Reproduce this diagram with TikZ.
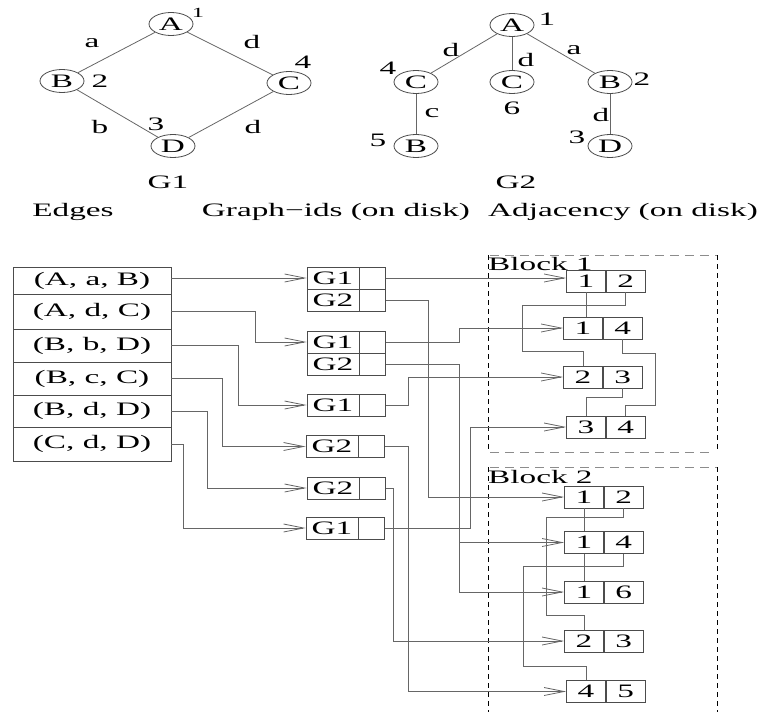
\documentclass[tikz,border=0pt]{standalone}
\usepackage{fontspec}
\setmainfont{Liberation Serif}[FakeStretch=1.75]
\usetikzlibrary{arrows.meta,shapes.geometric}
\begin{document}
\begin{tikzpicture}[x=1pt,y=-1pt,
  every node/.style={font=\fontsize{19}{22}\selectfont, inner sep=0pt},
  ln/.style={draw=black!60, line width=0.8pt},
  vtx/.style={ellipse, draw=black!70, line width=0.8pt, minimum width=44pt, minimum height=23pt},
  small/.style={font=\fontsize{14}{16}\selectfont},
  erow/.style={draw=black!70, line width=0.8pt, minimum width=158pt},
  gidL/.style={draw=black!70, line width=0.8pt, minimum width=52pt, minimum height=22pt},
  gidR/.style={draw=black!70, line width=0.8pt, minimum width=26pt, minimum height=22pt, anchor=west},
  adjL/.style={draw=black!70, line width=0.8pt, minimum width=39pt, minimum height=22pt},
  adjR/.style={adjL, anchor=west},
  arr/.style={ln, -{Straight Barb[length=20pt,width=8pt]}},
  gdash/.style={draw=black!45, line width=1pt, dash pattern=on 9pt off 6pt},
  kdash/.style={draw=black, line width=0.7pt, dash pattern=on 5pt off 4pt}]
\useasboundingbox (0,0) rectangle (768,712);

% ---------- G1 ----------
\node[vtx] (g1A) at (171,24) {A};
\node[vtx] (g1B) at (62,81) {B};
\node[vtx] (g1C) at (289,83) {C};
\node[vtx] (g1D) at (173,146) {D};
\draw[ln] (g1A) -- (g1B);
\draw[ln] (g1A) -- (g1C);
\draw[ln] (g1B) -- (g1D);
\draw[ln] (g1C) -- (g1D);
\node (l1a) at (92,43) {a};
\node (l1d1) at (252,42) {d};
\node (l1b) at (100,127) {b};
\node (l1d2) at (253,127) {d};
\node[small] (n1A) at (198,13) {1};
\node (n1B) at (100,81) {2};
\node (n1C) at (303,62) {4};
\node (n1D) at (156,124) {3};
\node (tG1) at (168,182) {G1};

% ---------- G2 ----------
\node[vtx] (g2A) at (512,25) {A};
\node[vtx] (g2Cl) at (416,82) {C};
\node[vtx] (g2Cm) at (512,82) {C};
\node[vtx] (g2Br) at (610,82) {B};
\node[vtx] (g2Bb) at (416,146) {B};
\node[vtx] (g2Db) at (610,146) {D};
\draw[ln] (g2A) -- (g2Cl);
\draw[ln] (g2A) -- (g2Cm);
\draw[ln] (g2A) -- (g2Br);
\draw[ln] (g2Cl) -- (g2Bb);
\draw[ln] (g2Br) -- (g2Db);
\node (l2d1) at (451,50) {d};
\node (l2d2) at (526,60) {d};
\node (l2a) at (574,50) {a};
\node (l2c) at (432,113) {c};
\node (l2d3) at (601,115) {d};
\node (n2A) at (547,19) {1};
\node (n2Cl) at (388,68) {4};
\node (n2Cm) at (512,108) {6};
\node (n2Br) at (642,79) {2};
\node (n2Bb) at (378,140) {5};
\node (n2Db) at (577,137) {3};
\node (tG2) at (516,182) {G2};

% ---------- titles ----------
\node (tE) at (73,212) {Edges};
\node (tGid) at (336,212) {Graph−ids (on disk)};
\node (tAdj) at (623,212) {Adjacency (on disk)};

% ---------- edges table ----------
\node[erow, minimum height=27pt] (e1) at (92,280.5) {(A, a, B)};
\node[erow, minimum height=35pt] (e2) at (92,311.5) {(A, d, C)};
\node[erow, minimum height=33pt] (e3) at (92,345.5) {(B, b, D)};
\node[erow, minimum height=33pt] (e4) at (92,378.5) {(B, c, C)};
\node[erow, minimum height=32pt] (e5) at (92,411) {(B, d, D)};
\node[erow, minimum height=34pt] (e6) at (92,444) {(C, d, D)};

% ---------- graph-id boxes ----------
\node[gidL] (g1a) at (333,278) {G1};  \node[gidR] (g1ar) at (g1a.east) {};
\node[gidL] (g1b) at (333,300) {G2};  \node[gidR] (g1br) at (g1b.east) {};
\node[gidL] (g2a) at (333,342) {G1};  \node[gidR] (g2ar) at (g2a.east) {};
\node[gidL] (g2b) at (333,364) {G2};  \node[gidR] (g2br) at (g2b.east) {};
\node[gidL] (g3) at (333,405) {G1};   \node[gidR] (g3r) at (g3.east) {};
\node[gidL] (g4) at (332,446.5) {G2}; \node[gidR] (g4r) at (g4.east) {};
\node[gidL] (g5) at (333,488) {G2};   \node[gidR] (g5r) at (g5.east) {};
\node[gidL] (g6) at (332,528) {G1};   \node[gidR] (g6r) at (g6.east) {};

% ---------- adjacency boxes ----------
\node[adjL] (a1) at (586,281) {1};   \node[adjR] (a1r) at (a1.east) {2};
\node[adjL] (a2) at (583,328) {1};   \node[adjR] (a2r) at (a2.east) {4};
\node[adjL] (a3) at (583,377) {2};   \node[adjR] (a3r) at (a3.east) {3};
\node[adjL] (a4) at (586,427) {3};   \node[adjR] (a4r) at (a4.east) {4};
\node[adjL] (b1) at (584,497) {1};   \node[adjR] (b1r) at (b1.east) {2};
\node[adjL] (b2) at (584,542.5) {1}; \node[adjR] (b2r) at (b2.east) {4};
\node[adjL] (b3) at (584,592) {1};   \node[adjR] (b3r) at (b3.east) {6};
\node[adjL] (b4) at (584,641) {2};   \node[adjR] (b4r) at (b4.east) {3};
\node[adjL] (b5) at (586,691.5) {4}; \node[adjR] (b5r) at (b5.east) {5};

% ---------- blocks ----------
\draw[gdash] (490,255) -- (717,255);
\draw[gdash] (490,452) -- (712,452);
\draw[kdash] (488,255) -- (488,452);
\draw[kdash] (717,255) -- (717,452);
\draw[gdash] (490,467) -- (717,467);
\draw[kdash] (488,467) -- (488,712);
\draw[kdash] (717,467) -- (717,712);
\node[anchor=west] (blk1) at (488,263.5) {Block 1};
\node[anchor=west] (blk2) at (488,477) {Block 2};

% ---------- bend columns ----------
\coordinate (x183) at (183,0);
\coordinate (x207) at (207,0);
\coordinate (x222) at (222,0);
\coordinate (x238) at (238,0);
\coordinate (x255) at (255,0);
\coordinate (x393) at (393,0);
\coordinate (x408) at (408,0);
\coordinate (x428) at (428,0);
\coordinate (x459) at (459,0);
\coordinate (x470) at (470,0);

% ---------- edges -> graph ids ----------
\draw[arr] (e1.east |- g1a.west) -- (g1a.west);
\draw[arr] (e2.east) -| (x255 |- g2a.west) -- (g2a.west);
\draw[arr] (e3.east) -| (x238 |- g3.west) -- (g3.west);
\draw[arr] (e4.east) -| (x222 |- g4.west) -- (g4.west);
\draw[arr] (e5.east) -| (x207 |- g5.west) -- (g5.west);
\draw[arr] (e6.east) -| (x183 |- g6.west) -- (g6.west);

% ---------- graph ids -> adjacency ----------
\draw[arr] (g1ar.east) -- (g1ar.east -| a1.west);
\draw[arr] (g1br.east) -| (x428 |- b1.west) -- (b1.west);
\draw[arr] (g2ar.east) -| (x459 |- a2.west) -- (a2.west);
\draw[arr] (g2br.east) -| (x459 |- b3.west) -- (b3.west);
\draw[arr] (x459 |- b2.west) -- (b2.west);
\draw[arr] (g3r.east) -| (x408 |- a3.west) -- (a3.west);
\draw[arr] (g4r.east) -| (x408 |- b5.west) -- (b5.west);
\draw[arr] (g5r.east) -| (x393 |- b4.west) -- (b4.west);
\draw[arr] (g6r.east) -| (x470 |- a4.west) -- (a4.west);

% ---------- links inside block 1 ----------
\draw[ln] (a1.south) -- (a1.south |- a2.north);
\draw[ln] (a1r.south) |- (522,305) -- (522,351) -| (a3.north);
\draw[ln] (a2r.south) |- (655,353) -- (655,405) -| (a4r.north);
\draw[ln] (a3r.south) -- ++(0,9) -| (a4.north);

% ---------- links inside block 2 ----------
\draw[ln] (b1.south) -- (b2.north);
\draw[ln] (b1r.south) -- ++(0,9) -| (546,615) -| (b4.north);
\draw[ln] (b2.south) -- (b3.north);
\draw[ln] (b2r.south) -- ++(0,12) -| (523,666) -| (b5.north);
\end{tikzpicture}
\end{document}
